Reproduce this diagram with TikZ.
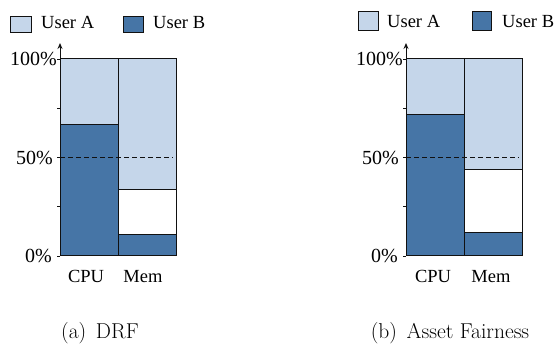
\documentclass[tikz,border=0pt]{standalone}
\usepackage{fontspec}
\usepackage{xcolor}
\usetikzlibrary{arrows.meta}
\newfontfamily\chartfont{Liberation Serif}
\newcommand{\barwidth}{58}
\newcommand{\barheight}{197}
\definecolor{userAcolor}{HTML}{C5D6EA}
\definecolor{userBcolor}{HTML}{4675A6}
\definecolor{edgecolor}{HTML}{111111}

\begin{document}
\begin{tikzpicture}[x=1pt, y=1pt,
    barpart/.style={draw=edgecolor, line width=1pt},
    keybox/.style={draw=edgecolor, line width=1pt},
    chartlabel/.style={font=\chartfont\fontsize{18.5}{22}\selectfont},
    ticklabel/.style={font=\chartfont\fontsize{20}{24}\selectfont, anchor=east, inner sep=0pt},
    subcaption/.style={font=\fontsize{21.5}{25}\selectfont, anchor=base}]
  % Canvas
  \useasboundingbox (0,0) rectangle (557,347);

  % === PANEL (a): DRF ===
  % Legend
  \filldraw[keybox, fill=userAcolor] (10,314) rectangle (31,330);
  \node[chartlabel, anchor=base west, inner sep=0pt] (a-keyA) at (41,318) {User A};
  \filldraw[keybox, fill=userBcolor] (123,314) rectangle (143,330);
  \node[chartlabel, anchor=base west, inner sep=0pt] (a-keyB) at (153,318) {User B};

  \begin{scope}[shift={(60,91)}]
    % CPU bar
    \filldraw[barpart, fill=userBcolor] (0,0) rectangle (\barwidth, 0.67*\barheight);
    \filldraw[barpart, fill=userAcolor] (0, 0.67*\barheight) rectangle (\barwidth, \barheight);
    % Mem bar
    \filldraw[barpart, fill=userBcolor] (\barwidth,0) rectangle (2*\barwidth, 0.11*\barheight);
    \filldraw[barpart, fill=white] (\barwidth, 0.11*\barheight) rectangle (2*\barwidth, 0.335*\barheight);
    \filldraw[barpart, fill=userAcolor] (\barwidth, 0.335*\barheight) rectangle (2*\barwidth, \barheight);

    % 50% mark
    \draw[edgecolor, dash pattern=on 5pt off 3pt, line width=0.8pt] (0, 0.5*\barheight) -- (113, 0.5*\barheight);

    % Axis with ticks
    \draw[edgecolor, line width=1pt, -{Stealth[length=6pt, width=5pt]}] (0,0) -- (0,213);
    \foreach \p in {0,0.25,...,1} {
      \draw[edgecolor, line width=0.8pt] (-3, \p*\barheight) -- (0, \p*\barheight);
    }
    \node[ticklabel] (a-top) at (-3, \barheight) {100\%};
    \node[ticklabel] (a-mid) at (-7, 0.5*\barheight) {50\%};
    \node[ticklabel] (a-low) at (-8, 0) {0\%};

    % Resource names
    \node[chartlabel, anchor=base] (a-cpu) at (26,-27) {CPU};
    \node[chartlabel, anchor=base] (a-mem) at (83,-27) {Mem};
  \end{scope}
  \node[subcaption] (a-caption) at (100,8) {(a)\hspace{0.45em}DRF};

  % === PANEL (b): ASSET FAIRNESS ===
  % Legend
  \filldraw[keybox, fill=userAcolor] (358,316.5) rectangle (378,335);
  \node[chartlabel, anchor=base west, inner sep=0pt] (b-keyA) at (387,319.5) {User A};
  \filldraw[keybox, fill=userBcolor] (472,316.5) rectangle (491,335);
  \node[chartlabel, anchor=base west, inner sep=0pt] (b-keyB) at (502,319.5) {User B};

  \begin{scope}[shift={(406,91)}]
    % CPU bar
    \filldraw[barpart, fill=userBcolor] (0,0) rectangle (\barwidth, 0.72*\barheight);
    \filldraw[barpart, fill=userAcolor] (0, 0.72*\barheight) rectangle (\barwidth, \barheight);
    % Mem bar
    \filldraw[barpart, fill=userBcolor] (\barwidth,0) rectangle (2*\barwidth, 0.117*\barheight);
    \filldraw[barpart, fill=white] (\barwidth, 0.117*\barheight) rectangle (2*\barwidth, 0.437*\barheight);
    \filldraw[barpart, fill=userAcolor] (\barwidth, 0.437*\barheight) rectangle (2*\barwidth, \barheight);

    % 50% mark
    \draw[edgecolor, dash pattern=on 5pt off 3pt, line width=0.8pt] (0, 0.5*\barheight) -- (113, 0.5*\barheight);

    % Axis with ticks
    \draw[edgecolor, line width=1pt, -{Stealth[length=6pt, width=5pt]}] (0,0) -- (0,213);
    \foreach \p in {0,0.25,...,1} {
      \draw[edgecolor, line width=0.8pt] (-3, \p*\barheight) -- (0, \p*\barheight);
    }
    \node[ticklabel] (b-top) at (-3, \barheight) {100\%};
    \node[ticklabel] (b-mid) at (-7, 0.5*\barheight) {50\%};
    \node[ticklabel] (b-low) at (-8, 0) {0\%};

    % Resource names
    \node[chartlabel, anchor=base] (b-cpu) at (27,-27) {CPU};
    \node[chartlabel, anchor=base] (b-mem) at (85,-27) {Mem};
  \end{scope}
  \node[subcaption] (b-caption) at (450,8) {(b)\hspace{0.45em}Asset Fairness};
\end{tikzpicture}
\end{document}
